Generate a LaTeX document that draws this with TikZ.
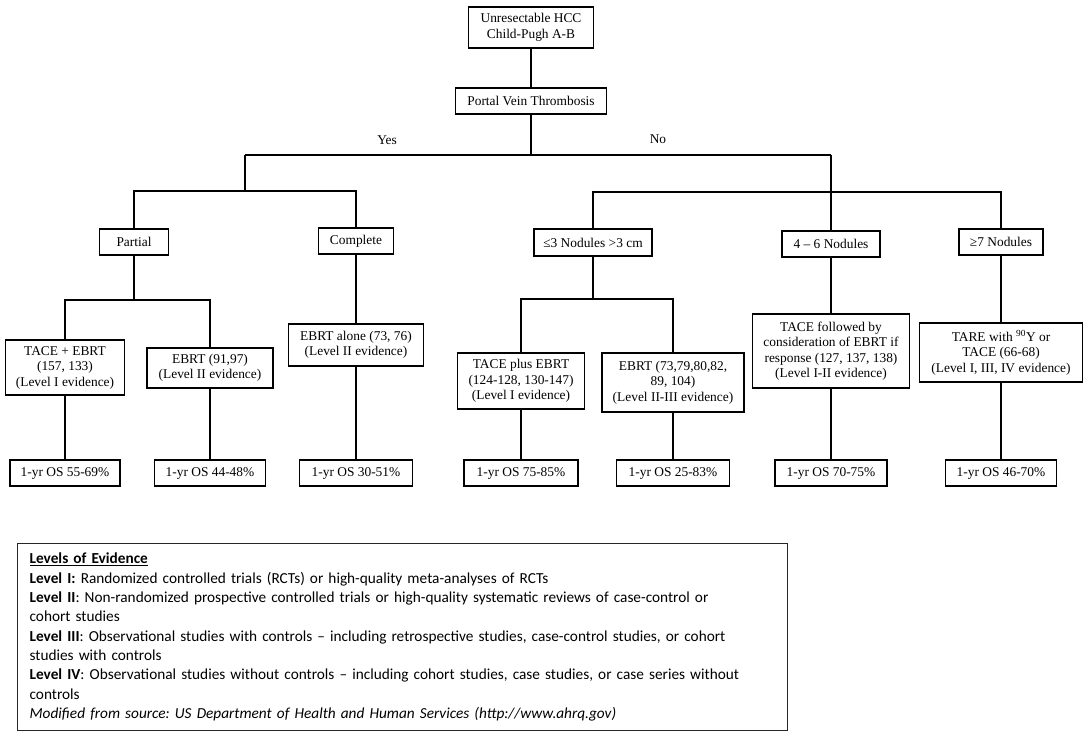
\documentclass[tikz,border=0pt]{standalone}
\usepackage{fontspec}
\setmainfont{Liberation Serif}
\newfontfamily\legendfont{Carlito}
\frenchspacing
\begin{document}
\begin{tikzpicture}[x=1pt,y=-1pt,
  box/.style={draw=black, line width=1.2pt, align=center, inner sep=0pt, font=\fontsize{13.4}{15.5}\selectfont},
  conn/.style={draw=black, line width=2pt},
  lbl/.style={inner sep=0pt, font=\fontsize{13.4}{15.5}\selectfont},
  legendbox/.style={draw=black!85, line width=1.2pt, align=left, anchor=north west, text width=746pt, inner xsep=12pt, inner ysep=0pt, minimum height=187pt, font=\legendfont\fontsize{15.3}{19.3}\selectfont}]
\useasboundingbox (0,0) rectangle (1090,743);
\fill[white] (0,0) rectangle (1090,743);

% top
\node[box, minimum width=125pt, minimum height=41pt] (root) at (531,27.5) {Unresectable HCC\\Child-Pugh A-B};
\node[box, minimum width=151pt, minimum height=26pt] (pvt) at (531,101) {Portal Vein Thrombosis};
\node[lbl] (yes) at (387,140) {Yes};
\node[lbl] (no) at (658,139) {No};

% second level
\node[box, minimum width=69pt, minimum height=26pt] (partial) at (134,242) {Partial};
\node[box, minimum width=75pt, minimum height=26pt] (complete) at (356,241) {Complete};
\node[box, minimum width=118pt, minimum height=27pt] (le3) at (593,242.5) {≤3 Nodules >3 cm};
\node[box, minimum width=98pt, minimum height=26pt] (n46) at (831,244) {4 – 6 Nodules};
\node[box, minimum width=84pt, minimum height=26pt] (ge7) at (1001,242) {≥7 Nodules};

% treatments
\node[box, minimum width=119pt, minimum height=55pt] (t1) at (65,367.5) {TACE + EBRT\\(157, 133)\\(Level I evidence)};
\node[box, minimum width=126pt, minimum height=40pt] (t2) at (210,368) {EBRT (91,97)\\(Level II evidence)};
\node[box, minimum width=135pt, minimum height=42pt] (t3) at (356,345) {EBRT alone (73, 76)\\(Level II evidence)};
\node[box, minimum width=127pt, minimum height=56pt] (t4) at (521,381) {TACE plus EBRT\\(124-128, 130-147)\\(Level I evidence)};
\node[box, minimum width=142pt, minimum height=59pt] (t5) at (673,382.5) {EBRT (73,79,80,82,\\89, 104)\\(Level II-III evidence)};
\node[box, minimum width=157pt, minimum height=74pt] (t6) at (831,351) {TACE followed by\\consideration of EBRT if\\response (127, 137, 138)\\(Level I-II evidence)};
\node[box, minimum width=163pt, minimum height=59pt] (t7) at (1001,352.5) {TARE with \textsuperscript{90}Y or\\TACE (66-68)\\(Level I, III, IV evidence)};

% outcomes
\node[box, minimum width=110pt, minimum height=26pt] (o1) at (65,473) {1-yr OS 55-69\%};
\node[box, minimum width=111pt, minimum height=26pt] (o2) at (210,473) {1-yr OS 44-48\%};
\node[box, minimum width=113pt, minimum height=26pt] (o3) at (356,473) {1-yr OS 30-51\%};
\node[box, minimum width=114pt, minimum height=26pt] (o4) at (521,473) {1-yr OS 75-85\%};
\node[box, minimum width=113pt, minimum height=26pt] (o5) at (673,473) {1-yr OS 25-83\%};
\node[box, minimum width=112pt, minimum height=26pt] (o6) at (831,473) {1-yr OS 70-75\%};
\node[box, minimum width=111pt, minimum height=26pt] (o7) at (1001,473) {1-yr OS 46-70\%};

% junctions
\coordinate (yj) at (245,155);
\coordinate (nj) at (831,155);
\coordinate (yb) at (245,191);
\coordinate (nb) at (831,192);
\coordinate (pb) at (134,300);
\coordinate (lb) at (593,299);

% connectors
\draw[conn] (root) -- (pvt);
\draw[conn] (pvt.south) -- (pvt.south |- yj);
\draw[conn] (yj) -- (nj);
\draw[conn] (yj) -- (yb);
\draw[conn] (partial.north) |- (yb) -| (complete.north);
\draw[conn] (nj) -- (n46.north);
\draw[conn] (le3.north) |- (nb) -| (ge7.north);
\draw[conn] (partial.south) -- (pb);
\draw[conn] (t1.north) |- (pb) -| (t2.north);
\draw[conn] (le3.south) -- (lb);
\draw[conn] (t4.north) |- (lb) -| (t5.north);
\draw[conn] (complete) -- (t3);
\draw[conn] (n46) -- (t6);
\draw[conn] (ge7) -- (t7);
\draw[conn] (t1) -- (o1);
\draw[conn] (t2) -- (o2);
\draw[conn] (t3) -- (o3);
\draw[conn] (t4) -- (o4);
\draw[conn] (t5) -- (o5);
\draw[conn] (t6) -- (o6);
\draw[conn] (t7) -- (o7);

% legend
\node[legendbox] (legend) at (17,543) {\underline{\textbf{Levels of Evidence}}\\
\textbf{Level I:} Randomized controlled trials (RCTs) or high-quality meta-analyses of RCTs\\
\textbf{Level II}: Non-randomized prospective controlled trials or high-quality systematic reviews of case-control or\\
cohort studies\\
\textbf{Level III}: Observational studies with controls – including retrospective studies, case-control studies, or cohort\\
studies with controls\\
\textbf{Level IV}: Observational studies without controls – including cohort studies, case studies, or case series without\\
controls\\
\textit{Modified from source: US Department of Health and Human Services (http://www.ahrq.gov)}};
\end{tikzpicture}
\end{document}
